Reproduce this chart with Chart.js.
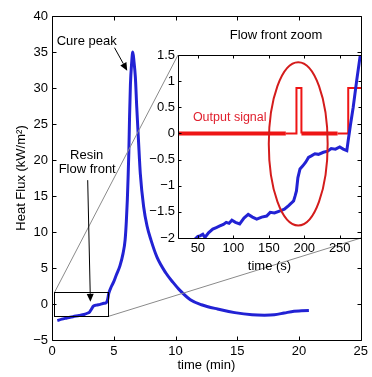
<!DOCTYPE html>
<html>
<head>
<meta charset="utf-8">
<script src="https://cdn.jsdelivr.net/npm/chart.js@4.4.0/dist/chart.umd.min.js"></script>
<style>
  html, body { margin: 0; padding: 0; background: #fff; }
  #wrap { position: relative; width: 372px; height: 377px; }
  #mainChart { position: absolute; left: 0; top: 0; }
  #zoomChart { position: absolute; left: 140px; top: 22px; }
</style>
</head>
<body>
<div id="wrap">
  <canvas id="mainChart" width="372" height="377"></canvas>
  <canvas id="zoomChart" width="228" height="256"></canvas>
</div>
<script>
// heat flux over the whole cure, time in minutes
var timeMin = [0.43, 0.8, 1.2, 1.7, 2.2, 2.6, 2.9, 3.05, 3.2, 3.35, 3.6, 3.9, 4.2, 4.4, 4.5, 4.6,
  4.8, 5.0, 5.2, 5.5, 5.75, 5.92, 6.02, 6.1, 6.16, 6.22, 6.28, 6.35, 6.45, 6.54, 6.63, 6.75,
  6.86, 7.0, 7.15, 7.42, 7.7, 8.01, 8.5, 9.22, 9.8, 10.3, 11.2, 12.1, 13.4, 14.8, 16.2, 17.2,
  18.0, 18.8, 19.6, 20.2, 20.8];
var heatFlux = [-2.3, -2.1, -1.95, -1.76, -1.6, -1.45, -1.25, -1.1, -0.7, -0.3, -0.15, -0.05, 0.1, 0.2, 0.6, 1.5,
  2.4, 3.1, 4.0, 5.3, 7.0, 8.9, 11.5, 14.5, 17.5, 21, 26, 30.5, 33.5, 35.0, 33.8, 31.5,
  27.4, 22.8, 18.1, 13.5, 10.8, 8.9, 6.5, 4.3, 3.0, 2.0, 0.6, -0.1, -0.7, -1.2, -1.5, -1.55,
  -1.5, -1.25, -1.0, -0.95, -0.9];
var mainXTicks = [0, 5, 10, 15, 20, 25];
var mainYTicks = [-5, 0, 5, 10, 15, 20, 25, 30, 35, 40];

// flow front zoom, time in seconds
var timeSec = [40, 46, 50, 53, 57, 60, 65, 71, 76, 81, 86, 90, 94, 98, 103, 109, 115, 121, 127, 133,
  140, 147, 152, 158, 166, 172, 178, 182, 185, 187, 189, 191, 194, 198, 202, 206, 210, 215, 220,
  227, 233, 238, 244, 250, 255, 260, 262, 265, 269, 274, 279];
var zoomFlux = [-2.1, -2.02, -1.97, -1.96, -1.93, -1.99, -1.9, -1.83, -1.8, -1.77, -1.74, -1.7, -1.72, -1.66, -1.7, -1.73, -1.62, -1.55, -1.6, -1.64,
  -1.6, -1.58, -1.51, -1.52, -1.48, -1.45, -1.38, -1.33, -1.29, -1.2, -1.1, -0.85, -0.68, -0.62, -0.55, -0.46, -0.43, -0.39, -0.4,
  -0.36, -0.34, -0.29, -0.3, -0.26, -0.3, -0.33, -0.13, 0.15, 0.5, 1.02, 1.5];
var signalTime = [22, 174, 189, 189, 196, 196, 247, 262, 262, 280];
var signalValue = [0, 0, 0, 0.87, 0.87, 0, 0, 0, 0.87, 0.87];
var zoomXTicks = [50, 100, 150, 200, 250];
var zoomYTicks = [-2, -1.5, -1, -0.5, 0, 0.5, 1, 1.5];

// part of the main plot shown in the inset
var zoomBoxX = [0.2, 4.6];
var zoomBoxY = [-1.7, 1.6];
// ellipse round the first pulse (inset units)
var ringCenter = [191.5, -0.2];
var ringRadius = [41.5, 1.56];

var FONT = 'Liberation Sans, Arial, Helvetica, sans-serif';
Chart.defaults.font.family = FONT;
Chart.defaults.font.size = 13;
Chart.defaults.color = '#000';

function toPoints(xs, ys) {
  return xs.map(function(x, i) { return {x: x, y: ys[i]}; });
}
function minusLabel(v) {
  return String(v).replace('-', '\u2212');
}
function fixedTicks(list) {
  return function(scale) {
    scale.ticks = list.map(function(v) { return {value: v}; });
  };
}

// box round the plot area with inward ticks on all sides (matlab style)
var framePlugin = {
  id: 'frame',
  afterDraw: function(chart, args, opts) {
    var ctx = chart.ctx, a = chart.chartArea;
    var xs = chart.scales.x, ys = chart.scales.y;
    var len = opts.tick || 4;
    var l = Math.round(a.left) + 0.5, r = Math.round(a.right) + 0.5;
    var t = Math.round(a.top) + 0.5, b = Math.round(a.bottom) + 0.5;
    ctx.save();
    ctx.strokeStyle = '#000';
    ctx.lineWidth = 1;
    ctx.beginPath();
    xs.ticks.forEach(function(tk) {
      var px = Math.round(xs.getPixelForValue(tk.value)) + 0.5;
      ctx.moveTo(px, b); ctx.lineTo(px, b - len);
      ctx.moveTo(px, t); ctx.lineTo(px, t + len);
    });
    ys.ticks.forEach(function(tk) {
      var py = Math.round(ys.getPixelForValue(tk.value)) + 0.5;
      ctx.moveTo(l, py); ctx.lineTo(l + len, py);
      ctx.moveTo(r, py); ctx.lineTo(r - len, py);
    });
    ctx.rect(l, t, r - l, b - t);
    ctx.stroke();
    ctx.restore();
  }
};

function arrow(ctx, x0, y0, x1, y1) {
  var ang = Math.atan2(y1 - y0, x1 - x0), hl = 8, hw = 3.5;
  var bx = x1 - hl * Math.cos(ang), by = y1 - hl * Math.sin(ang);
  ctx.beginPath();
  ctx.moveTo(x0, y0); ctx.lineTo(bx, by);
  ctx.stroke();
  ctx.beginPath();
  ctx.moveTo(x1, y1);
  ctx.lineTo(bx + hw * Math.sin(ang), by - hw * Math.cos(ang));
  ctx.lineTo(bx - hw * Math.sin(ang), by + hw * Math.cos(ang));
  ctx.closePath();
  ctx.fill();
}

// ---- inset ----
var insetPlugin = {
  id: 'insetMarks',
  afterDatasetsDraw: function(chart) {
    var ctx = chart.ctx, a = chart.chartArea;
    var xs = chart.scales.x, ys = chart.scales.y;
    ctx.save();
    ctx.beginPath();
    ctx.rect(a.left, a.top, a.right - a.left, a.bottom - a.top);
    ctx.clip();
    var cx = xs.getPixelForValue(ringCenter[0]), cy = ys.getPixelForValue(ringCenter[1]);
    var rx = Math.abs(xs.getPixelForValue(ringCenter[0] + ringRadius[0]) - cx);
    var ry = Math.abs(ys.getPixelForValue(ringCenter[1] + ringRadius[1]) - cy);
    ctx.strokeStyle = '#d41c1c';
    ctx.lineWidth = 2;
    ctx.beginPath();
    ctx.ellipse(cx, cy, rx, ry, 0, 0, Math.PI * 2);
    ctx.stroke();
    ctx.restore();

    ctx.save();
    ctx.font = '12.5px ' + FONT;
    ctx.fillStyle = '#e0202e';
    ctx.textAlign = 'left';
    ctx.textBaseline = 'middle';
    ctx.fillText('Output signal', xs.getPixelForValue(43), ys.getPixelForValue(0.31));
    ctx.fillStyle = '#000';
    ctx.textAlign = 'center';
    ctx.font = '13px ' + FONT;
    ctx.fillText('Flow front zoom', (a.left + a.right) / 2 + 6.5, a.top - 20);
    ctx.restore();
  }
};

var zoomChart = new Chart(document.getElementById('zoomChart'), {
  type: 'line',
  data: {
    datasets: [{
      label: 'Heat flux',
      data: toPoints(timeSec, zoomFlux),
      borderColor: '#2222d4',
      borderWidth: 3,
      pointRadius: 0,
      tension: 0
    }, {
      label: 'Output signal',
      data: toPoints(signalTime, signalValue),
      borderColor: '#ee1515',
      borderWidth: 2,
      pointRadius: 0,
      tension: 0,
      segment: {
        borderWidth: function(c) { return (c.p0DataIndex === 0 || c.p0DataIndex === 5) ? 4 : 2; }
      }
    }]
  },
  options: {
    responsive: false,
    animation: false,
    layout: { padding: { left: 0, top: 33, right: 7, bottom: 0 } },
    plugins: { legend: { display: false }, tooltip: { enabled: false }, frame: { tick: 3 } },
    scales: {
      x: {
        type: 'linear', min: 22, max: 280,
        afterBuildTicks: fixedTicks(zoomXTicks),
        afterFit: function(s) { s.height = 40; },
        grid: { display: false, drawTicks: false }, border: { display: false },
        ticks: { padding: 3, maxRotation: 0, callback: minusLabel },
        title: { display: true, text: 'time (s)', padding: { top: 0, bottom: 4 } }
      },
      y: {
        type: 'linear', min: -2, max: 1.5,
        afterBuildTicks: fixedTicks(zoomYTicks),
        afterFit: function(s) { s.width = 38; },
        grid: { display: false, drawTicks: false }, border: { display: false },
        ticks: { padding: 3, callback: minusLabel }
      }
    }
  },
  plugins: [framePlugin, insetPlugin]
});

// ---- main plot ----
var INSET_LEFT = 140, INSET_TOP = 22;
var mainPlugin = {
  id: 'mainMarks',
  afterDraw: function(chart) {
    var ctx = chart.ctx;
    var xs = chart.scales.x, ys = chart.scales.y;
    var x0 = xs.getPixelForValue(zoomBoxX[0]), x1 = xs.getPixelForValue(zoomBoxX[1]);
    var y0 = ys.getPixelForValue(zoomBoxY[1]), y1 = ys.getPixelForValue(zoomBoxY[0]);
    var ia = zoomChart.chartArea;
    ctx.save();
    ctx.strokeStyle = '#8a8a8a';
    ctx.lineWidth = 1;
    ctx.beginPath();
    ctx.moveTo(x0, y0); ctx.lineTo(INSET_LEFT + ia.left, INSET_TOP + ia.top);
    ctx.moveTo(x1, y1); ctx.lineTo(INSET_LEFT + ia.right, INSET_TOP + ia.bottom);
    ctx.stroke();
    ctx.strokeStyle = '#000';
    ctx.strokeRect(Math.round(x0) + 0.5, Math.round(y0) + 0.5, Math.round(x1 - x0), Math.round(y1 - y0));

    ctx.fillStyle = '#000';
    ctx.font = '13px ' + FONT;
    ctx.textAlign = 'center';
    ctx.textBaseline = 'middle';
    ctx.fillText('Cure peak', xs.getPixelForValue(2.81), ys.getPixelForValue(36.4));
    ctx.fillText('Resin', xs.getPixelForValue(2.81), ys.getPixelForValue(20.6));
    ctx.fillText('Flow front', xs.getPixelForValue(2.85), ys.getPixelForValue(18.75));
    ctx.lineWidth = 1;
    arrow(ctx, xs.getPixelForValue(5.06), ys.getPixelForValue(35.6), xs.getPixelForValue(6.09), ys.getPixelForValue(32.4));
    arrow(ctx, xs.getPixelForValue(2.89), ys.getPixelForValue(17.2), xs.getPixelForValue(3.11), ys.getPixelForValue(0.3));
    ctx.restore();
  }
};

var mainChart = new Chart(document.getElementById('mainChart'), {
  type: 'line',
  data: {
    datasets: [{
      label: 'Heat flux',
      data: toPoints(timeMin, heatFlux),
      borderColor: '#2222d4',
      borderWidth: 3,
      pointRadius: 0,
      cubicInterpolationMode: 'monotone'
    }]
  },
  options: {
    responsive: false,
    animation: false,
    layout: { padding: { left: 0, top: 16, right: 9, bottom: 0 } },
    plugins: { legend: { display: false }, tooltip: { enabled: false }, frame: { tick: 4 } },
    scales: {
      x: {
        type: 'linear', min: 0, max: 25,
        afterBuildTicks: fixedTicks(mainXTicks),
        afterFit: function(s) { s.height = 37; },
        grid: { display: false, drawTicks: false }, border: { display: false },
        ticks: { padding: 4, maxRotation: 0, callback: minusLabel },
        title: { display: true, text: 'time (min)', padding: { top: 0, bottom: 4 } }
      },
      y: {
        type: 'linear', min: -5, max: 40,
        afterBuildTicks: fixedTicks(mainYTicks),
        afterFit: function(s) { s.width = 52; },
        grid: { display: false, drawTicks: false }, border: { display: false },
        ticks: { padding: 4, callback: minusLabel },
        title: { display: true, text: 'Heat Flux (kW/m\u00B2)', padding: { top: 14, bottom: 0 } }
      }
    }
  },
  plugins: [framePlugin, mainPlugin]
});
</script>
</body>
</html>
